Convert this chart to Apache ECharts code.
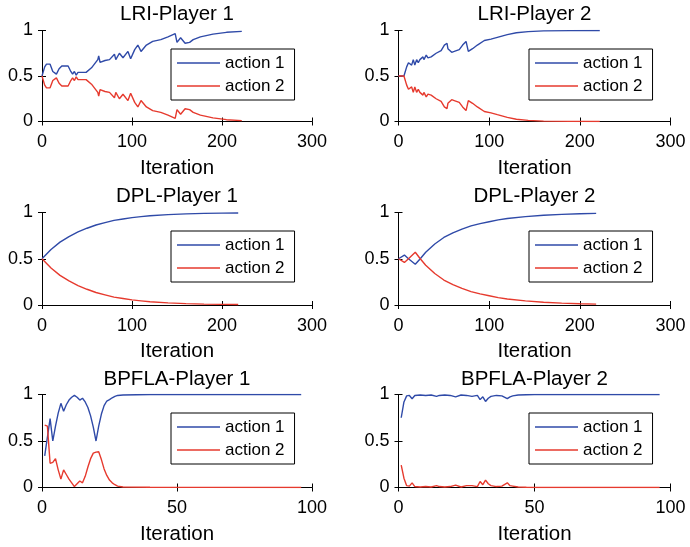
<!DOCTYPE html>
<html><head><meta charset="utf-8">
<script src="https://cdn.jsdelivr.net/npm/echarts@6/dist/echarts.min.js"></script>
<style>html,body{margin:0;padding:0;background:#fff}#c{width:690px;height:547px}</style>
</head><body><div id="c"></div>
<script>
// ---------------- data ----------------
const titles = ['LRI-Player 1','LRI-Player 2','DPL-Player 1','DPL-Player 2','BPFLA-Player 1','BPFLA-Player 2'];
const seriesNames = ['action 1','action 2'];
const xTicks300 = [0,100,200,300];
const xTicks100 = [0,50,100];
const yTicks = [0,0.5,1];

const lri1It = [0,3,5,9,12,16,19,22,29,32,34,36,38,40,42,44,49,55,62,63,64.5,70,75,80.5,82,86,90,95.5,98.5,103,106.5,110,116,123,132,140,148,150,154,159,164,168,176,190,205,222];
const lri1A1 = [0.5,0.6,0.63,0.63,0.55,0.52,0.58,0.61,0.61,0.55,0.52,0.55,0.51,0.54,0.52,0.54,0.54,0.59,0.68,0.72,0.65,0.67,0.68,0.74,0.68,0.75,0.70,0.77,0.69,0.79,0.84,0.77,0.84,0.88,0.90,0.93,0.965,0.87,0.92,0.86,0.87,0.90,0.93,0.96,0.98,0.99];
const lri1A2 = [0.5,0.4,0.37,0.37,0.45,0.48,0.42,0.39,0.39,0.45,0.48,0.45,0.49,0.46,0.48,0.46,0.46,0.41,0.32,0.28,0.35,0.33,0.32,0.26,0.32,0.25,0.30,0.23,0.31,0.21,0.16,0.23,0.16,0.12,0.10,0.07,0.035,0.13,0.08,0.14,0.13,0.10,0.07,0.04,0.02,0.01];

const lri2It = [0,6,9,11,12.7,14.5,16.3,18,20,21.8,23.6,27,28,30.6,32.5,36,41.5,47,50.6,53.5,54.5,56,58.7,61.5,67,70.7,74.5,77,81.7,87,94.7,102,109,120,130,143,160,190,222];
const lri2A1 = [0.5,0.5,0.6,0.645,0.66,0.62,0.68,0.62,0.68,0.645,0.68,0.71,0.68,0.73,0.70,0.71,0.75,0.78,0.84,0.86,0.80,0.82,0.76,0.77,0.79,0.84,0.88,0.77,0.80,0.84,0.89,0.905,0.925,0.955,0.975,0.988,0.996,0.999,1.0];
const lri2A2 = [0.5,0.5,0.4,0.355,0.34,0.38,0.32,0.38,0.32,0.355,0.32,0.29,0.32,0.27,0.30,0.29,0.25,0.22,0.16,0.14,0.20,0.18,0.24,0.23,0.21,0.16,0.12,0.23,0.20,0.16,0.11,0.095,0.075,0.045,0.025,0.012,0.004,0.001,0];

const dpl1It = [0,10,20,30,40,50,60,70,80,90,100,110,120,140,160,180,200,218];
const dpl1A1 = [0.5,0.60,0.68,0.74,0.79,0.83,0.865,0.89,0.915,0.93,0.945,0.955,0.965,0.977,0.985,0.99,0.993,0.995];
const dpl1A2 = [0.5,0.40,0.32,0.26,0.21,0.17,0.135,0.11,0.085,0.07,0.055,0.045,0.035,0.023,0.015,0.01,0.007,0.005];

const dpl2It = [0,6.5,11,18.5,24,30,40,50,60,70,80,90,100,110,120,140,160,180,200,218];
const dpl2A1 = [0.5,0.54,0.5,0.44,0.5,0.57,0.66,0.73,0.78,0.82,0.855,0.88,0.90,0.92,0.935,0.955,0.97,0.98,0.987,0.99];
const dpl2A2 = [0.5,0.46,0.5,0.57,0.5,0.43,0.34,0.27,0.22,0.18,0.145,0.12,0.10,0.08,0.065,0.045,0.03,0.02,0.013,0.01];

const bp1It1 = [1,3,4,5,6,7,8,9,10,11,12,13,14,15,16,17,18,19,20,21,22,23,24,25,26,27,28,30,35,40,50,60,70,80,90,96];
const bp1A1  = [0.34,0.74,0.5,0.66,0.80,0.905,0.82,0.89,0.94,0.97,0.99,0.97,0.94,0.96,0.92,0.86,0.77,0.65,0.50,0.66,0.79,0.88,0.93,0.945,0.965,0.98,0.99,0.995,0.998,1,1,1,1,1,1,1];
const bp1It2 = [1,2,3,4,5,6,7,8,9,10,11,12,13,14,15,16,17,18,19,20,21,22,23,24,25,26,27,28,30,40,60,96];
const bp1A2  = [0.67,0.66,0.26,0.27,0.31,0.19,0.09,0.19,0.14,0.09,0.05,0.01,0.04,0.07,0.05,0.12,0.22,0.31,0.37,0.38,0.385,0.30,0.20,0.13,0.08,0.05,0.03,0.015,0.005,0.002,0.001,0];

const bp2It = [1,2,3,4,5,6,8,10,12,14,15,17,19,21,23,25,27,29,30,31,32,33,34,36,38,40,41,42,44,47,50,60,70,80,90,96];
const bp2A1 = [0.75,0.92,0.985,0.99,0.955,0.99,0.995,0.99,0.995,0.98,0.99,0.995,0.99,0.975,0.995,0.99,0.98,0.99,0.945,0.975,0.925,0.96,0.98,0.99,0.985,0.955,0.975,0.985,0.995,0.998,1,1,1,1,1,1];
const bp2A2 = [0.24,0.10,0.02,0.015,0.05,0.01,0.005,0.01,0.005,0.02,0.01,0.005,0.01,0.025,0.005,0.02,0.02,0.01,0.065,0.03,0.08,0.04,0.02,0.01,0.015,0.05,0.02,0.015,0.005,0.002,0,0,0,0,0,0];

// ---------------- layout / style ----------------
const FONT = '"Liberation Sans", Arial, Helvetica, sans-serif';
const BLUE = '#2f4aa8', RED = '#e63a2e';
const colLeft = [42, 398.5], colWidth = [270, 272];
const rowTop = [30.5, 212.5, 394.5], rowHeight = [91, 92.5, 93];

const zip = (xs, ys) => xs.map((x, i) => [x, ys[i]]);
const panels = [
  {x1: lri1It, y1: lri1A1, x2: lri1It, y2: lri1A2, ticks: xTicks300},
  {x1: lri2It, y1: lri2A1, x2: lri2It, y2: lri2A2, ticks: xTicks300},
  {x1: dpl1It, y1: dpl1A1, x2: dpl1It, y2: dpl1A2, ticks: xTicks300},
  {x1: dpl2It, y1: dpl2A1, x2: dpl2It, y2: dpl2A2, ticks: xTicks300},
  {x1: bp1It1, y1: bp1A1, x2: bp1It2, y2: bp1A2, ticks: xTicks100},
  {x1: bp2It, y1: bp2A1, x2: bp2It, y2: bp2A2, ticks: xTicks100}
];

const grid = [], xAxis = [], yAxis = [], series = [], legend = [], title = [];
const axLine = {show: true, lineStyle: {color: '#000', width: 1}};
const tick = {show: true, inside: true, length: 4, lineStyle: {color: '#000', width: 1}};
panels.forEach((p, i) => {
  const c = i % 2, r = Math.floor(i / 2);
  const L = colLeft[c], T = rowTop[r], W = colWidth[c], H = rowHeight[r];
  grid.push({left: L, top: T, width: W, height: H, containLabel: false});
  const xmin = p.ticks[0], xmax = p.ticks[p.ticks.length - 1], xint = p.ticks[1] - p.ticks[0];
  const xBase = {type: 'value', gridIndex: i, min: xmin, max: xmax, interval: xint, splitLine: {show: false}, axisLine: axLine, axisTick: tick};
  xAxis.push(Object.assign({}, xBase, {position: 'bottom', name: 'Iteration', nameLocation: 'middle', nameGap: 36,
    nameTextStyle: {fontFamily: FONT, fontSize: 20.5, color: '#000'},
    axisLabel: {show: true, margin: 12, fontFamily: FONT, fontSize: 18, color: '#000'}}));
  xAxis.push(Object.assign({}, xBase, {position: 'top', axisLabel: {show: false}}));
  const yBase = {type: 'value', gridIndex: i, min: yTicks[0], max: yTicks[2], interval: yTicks[1] - yTicks[0], splitLine: {show: false}, axisLine: axLine, axisTick: tick};
  yAxis.push(Object.assign({}, yBase, {position: 'left', axisLabel: {show: true, margin: 9, fontFamily: FONT, fontSize: 18, color: '#000'}}));
  yAxis.push(Object.assign({}, yBase, {position: 'right', axisLabel: {show: false}}));
  series.push({type: 'line', name: seriesNames[0], xAxisIndex: 2 * i, yAxisIndex: 2 * i, data: zip(p.x1, p.y1),
    symbol: 'none', lineStyle: {color: BLUE, width: 1.4}, itemStyle: {color: BLUE}});
  series.push({type: 'line', name: seriesNames[1], xAxisIndex: 2 * i, yAxisIndex: 2 * i, data: zip(p.x2, p.y2),
    symbol: 'none', lineStyle: {color: RED, width: 1.4}, itemStyle: {color: RED}});
  legend.push({orient: 'vertical', left: L + (c === 0 ? 129 : 130.5), top: T + 18.5, data: seriesNames,
    icon: 'rect', itemWidth: 43, itemHeight: 1.5, itemGap: 6, padding: [5.5, 10, 5.5, 6], selectedMode: false,
    borderColor: '#000', borderWidth: 1, backgroundColor: '#fff', borderRadius: 0,
    textStyle: {fontFamily: FONT, fontSize: 17, color: '#000'}});
  title.push({text: titles[i], left: L + W / 2, top: [14, 196, 379][r], textAlign: 'center', textVerticalAlign: 'middle', padding: 0,
    textStyle: {fontFamily: FONT, fontSize: 20.5, fontWeight: 'normal', color: '#000'}});
});

const chart = echarts.init(document.getElementById('c'), null, {renderer: 'canvas'});
chart.setOption({animation: false, backgroundColor: '#fff', title, grid, xAxis, yAxis, series, legend});
</script>
</body></html>
